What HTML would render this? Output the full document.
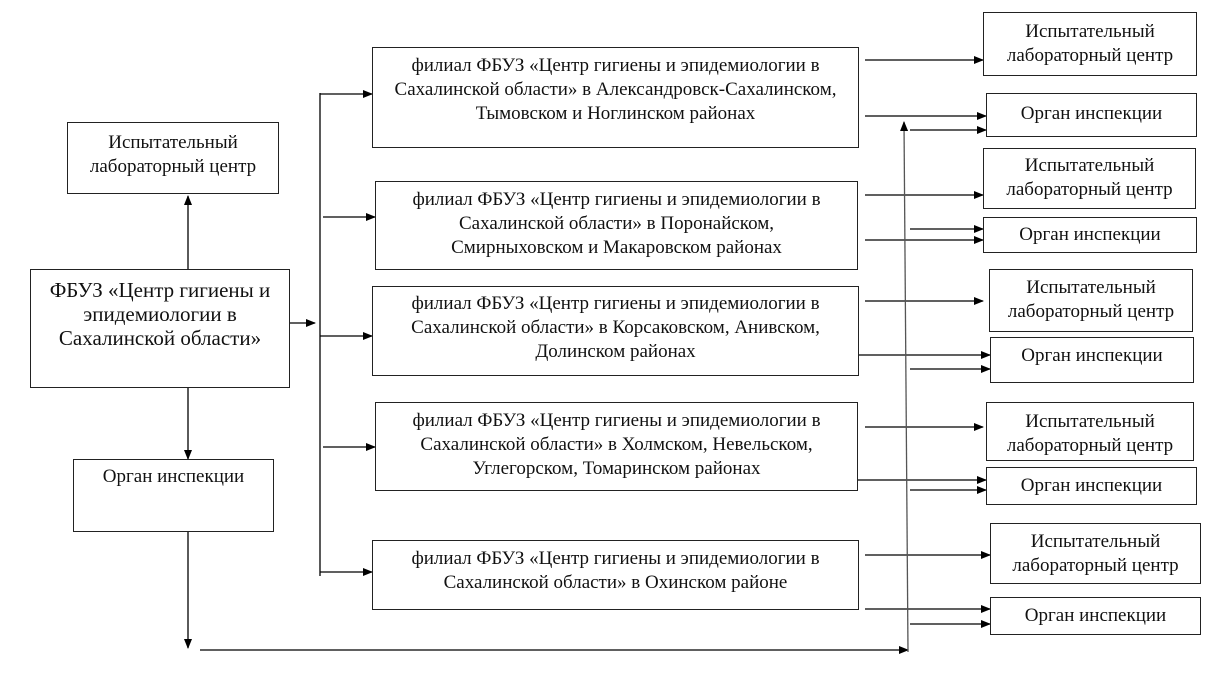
<!DOCTYPE html>
<html><head><meta charset="utf-8"><style>
body{margin:0;background:#fff;width:1214px;height:676px;overflow:hidden;position:relative;font-family:"Liberation Serif",serif;color:#111}
.b{position:absolute;border:1.3px solid #222;box-sizing:border-box;text-align:center;font-size:19px;line-height:24px;white-space:nowrap}
</style></head><body>
<svg width="1214" height="676" style="position:absolute;left:0;top:0">
<defs><marker id="a" markerWidth="10" markerHeight="8" refX="9" refY="4" orient="auto" markerUnits="userSpaceOnUse"><path d="M0,0L10,4L0,8z" fill="#000"/></marker></defs>
<g stroke="#000" stroke-width="1.3" fill="none" marker-end="url(#a)">
<line x1="188" y1="269" x2="188" y2="196"/>
<line x1="188" y1="387" x2="188" y2="459"/>
<line x1="188" y1="531" x2="188" y2="648"/>
<line x1="200" y1="650" x2="908" y2="650"/>
<line x1="289" y1="323" x2="315" y2="323"/>
<line x1="320" y1="94" x2="372" y2="94"/>
<line x1="323" y1="217" x2="375" y2="217"/>
<line x1="320" y1="336" x2="372" y2="336"/>
<line x1="323" y1="447" x2="375" y2="447"/>
<line x1="320" y1="572" x2="372" y2="572"/>
<line x1="865" y1="60" x2="983" y2="60"/>
<line x1="865" y1="116" x2="986" y2="116"/>
<line x1="910" y1="130" x2="986" y2="130"/>
<line x1="865" y1="195" x2="983" y2="195"/>
<line x1="910" y1="229" x2="983" y2="229"/>
<line x1="865" y1="240" x2="983" y2="240"/>
<line x1="865" y1="301" x2="983" y2="301"/>
<line x1="858" y1="355" x2="990" y2="355"/>
<line x1="910" y1="369" x2="990" y2="369"/>
<line x1="865" y1="427" x2="983" y2="427"/>
<line x1="858" y1="480" x2="986" y2="480"/>
<line x1="910" y1="490" x2="986" y2="490"/>
<line x1="865" y1="555" x2="990" y2="555"/>
<line x1="865" y1="609" x2="990" y2="609"/>
<line x1="910" y1="624" x2="990" y2="624"/>
<line x1="908" y1="652" x2="904" y2="122" stroke="#555"/>
</g>
<line x1="320" y1="93" x2="320" y2="576" stroke="#000" stroke-width="1.3"/>
</svg>
<div class="b" style="left:67px;top:122px;width:212px;height:72px;padding-top:8px">Испытательный<br>лабораторный центр</div>
<div class="b" style="left:30px;top:269px;width:260px;height:119px;font-size:21px;line-height:24px;padding-top:8px">ФБУЗ «Центр гигиены и<br>эпидемиологии в<br>Сахалинской области»</div>
<div class="b" style="left:73px;top:459px;width:201px;height:73px;padding-top:5px">Орган инспекции</div>
<div class="b" style="left:372px;top:47px;width:487px;height:101px;padding-top:6px">филиал ФБУЗ «Центр гигиены и эпидемиологии в<br>Сахалинской области» в Александровск-Сахалинском,<br>Тымовском и Ноглинском районах</div>
<div class="b" style="left:375px;top:181px;width:483px;height:89px;padding-top:6px">филиал ФБУЗ «Центр гигиены и эпидемиологии в<br>Сахалинской области» в Поронайском,<br>Смирныховском и Макаровском районах</div>
<div class="b" style="left:372px;top:286px;width:487px;height:90px;padding-top:5px">филиал ФБУЗ «Центр гигиены и эпидемиологии в<br>Сахалинской области» в Корсаковском, Анивском,<br>Долинском районах</div>
<div class="b" style="left:375px;top:402px;width:483px;height:89px;padding-top:6px">филиал ФБУЗ «Центр гигиены и эпидемиологии в<br>Сахалинской области» в Холмском, Невельском,<br>Углегорском, Томаринском районах</div>
<div class="b" style="left:372px;top:540px;width:487px;height:70px;padding-top:6px">филиал ФБУЗ «Центр гигиены и эпидемиологии в<br>Сахалинской области» в Охинском районе</div>
<div class="b" style="left:983px;top:12px;width:214px;height:64px;padding-top:7px">Испытательный<br>лабораторный центр</div>
<div class="b" style="left:986px;top:93px;width:211px;height:44px;padding-top:8px">Орган инспекции</div>
<div class="b" style="left:983px;top:148px;width:213px;height:61px;padding-top:5px">Испытательный<br>лабораторный центр</div>
<div class="b" style="left:983px;top:217px;width:214px;height:36px;padding-top:5px">Орган инспекции</div>
<div class="b" style="left:989px;top:269px;width:204px;height:63px;padding-top:6px">Испытательный<br>лабораторный центр</div>
<div class="b" style="left:990px;top:337px;width:204px;height:46px;padding-top:6px">Орган инспекции</div>
<div class="b" style="left:986px;top:402px;width:208px;height:59px;padding-top:7px;overflow:hidden">Испытательный<br>лабораторный центр</div>
<div class="b" style="left:986px;top:467px;width:211px;height:38px;padding-top:6px">Орган инспекции</div>
<div class="b" style="left:990px;top:523px;width:211px;height:61px;padding-top:6px">Испытательный<br>лабораторный центр</div>
<div class="b" style="left:990px;top:597px;width:211px;height:38px;padding-top:6px">Орган инспекции</div>
</body></html>
